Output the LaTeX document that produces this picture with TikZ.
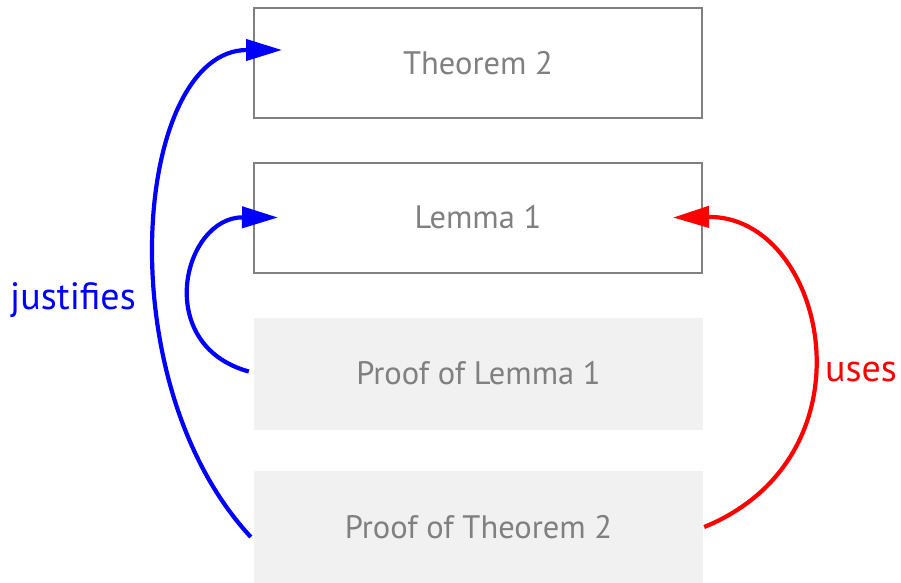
\documentclass[tikz,border=0pt]{standalone}
\usepackage{fontspec}
\setmainfont{PT Sans}
\usetikzlibrary{arrows.meta,calc}
\definecolor{boxgray}{HTML}{808080}
\definecolor{prooffill}{HTML}{F1F1F1}
\tikzset{
  stmt/.style={draw=boxgray, line width=2pt, minimum width=448pt, minimum height=110pt, inner sep=0pt, text=boxgray, font=\fontsize{32.5}{38}\selectfont},
  proofbox/.style={fill=prooffill, minimum width=449pt, minimum height=112pt, inner sep=0pt, text=boxgray, font=\fontsize{32.5}{38}\selectfont},
  link/.style={line width=4.2pt, -{Triangle[length=36pt,width=21pt]}},
  lbl/.style={font=\fontsize{38}{44}\selectfont, inner sep=0pt}
}
\begin{document}
\begin{tikzpicture}[x=1pt,y=-1pt]
\useasboundingbox (0,0) rectangle (901,582);
\node[stmt] (thm) at (478,63) {Theorem 2};
\node[stmt] (lem) at (478,217.5) {Lemma 1};
\node[proofbox] (plem) at (478.5,373.5) {Proof of Lemma 1};
\node[proofbox] (pthm) at (478.5,527) {Proof of Theorem 2};
\coordinate (a1s) at ($(pthm.west)+(-3,10)$);
\coordinate (a1e) at ($(thm.west)+(29,-13)$);
\coordinate (a2s) at ($(plem.west)+(-5,-2)$);
\coordinate (a2e) at ($(lem.west)+(25,0)$);
\coordinate (a3s) at ($(pthm.east)+(1,0)$);
\coordinate (a3e) at ($(lem.east)+(-30,0)$);
\draw[link, blue] (a1s) .. controls (105,380) and (135,50) .. (a1e);
\draw[link, blue] (a2s) .. controls (152,345) and (183,217) .. (a2e);
\draw[link, red] (a3s) .. controls (880,455) and (825,215) .. (a3e);
\node[lbl, text=blue] (just) at (73,300) {justifies};
\node[lbl, text=red] (uses) at (861,372) {uses};
\end{tikzpicture}
\end{document}
